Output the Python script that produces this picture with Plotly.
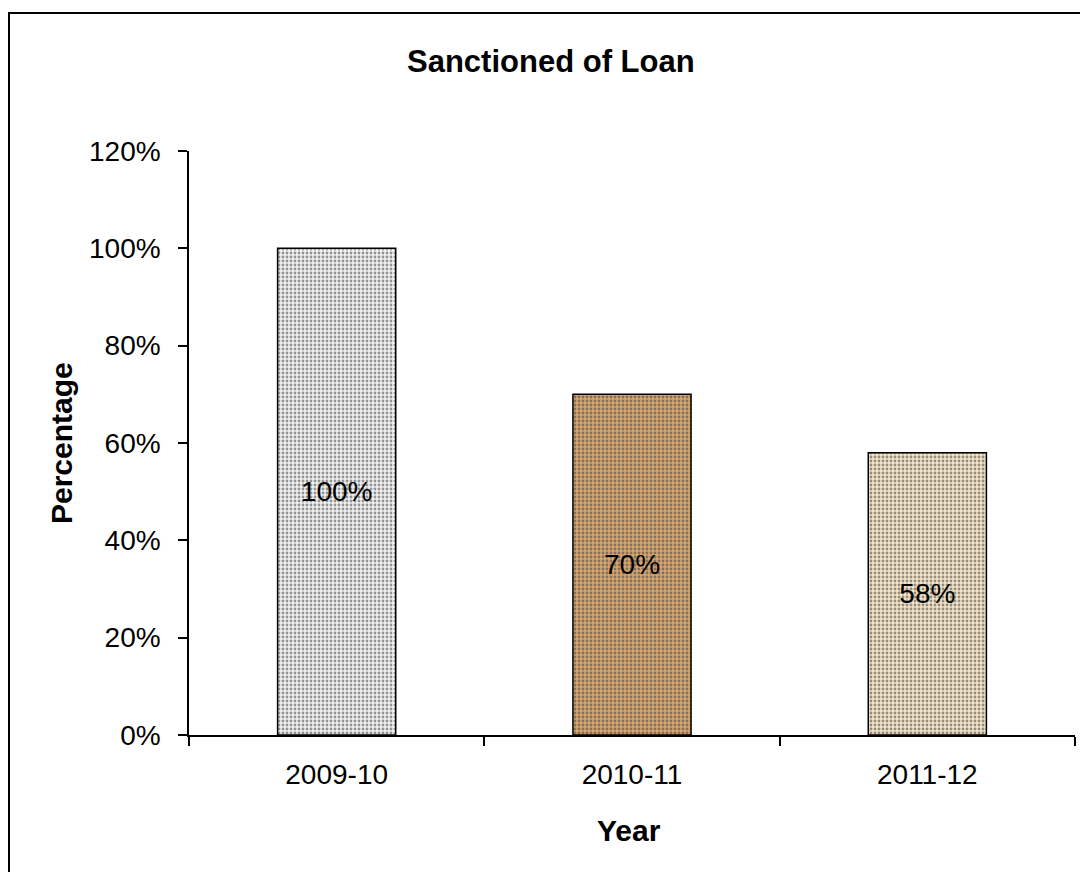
import plotly.graph_objects as go

# Share of loans sanctioned per financial year
years = ["2009-10", "2010-11", "2011-12"]
sanctioned = [1.00, 0.70, 0.58]
bar_labels = ["100%", "70%", "58%"]

# Textured fills (base colour + speckle colour)
base_colors = ["#f1f1f1", "#d8a56e", "#f3e4c6"]
speck_colors = ["#d4d4d4", "#9c5e2c", "#e2cca2"]

FONT = "Liberation Sans, Arial, sans-serif"

# Plot-area geometry in pixels
W, H = 1080, 872
L, R, T, B = 189, 5, 151, 137
PW, PH = W - L - R, H - T - B


def px_x(x):
    return (x - L) / PW


def px_y(y):
    return (H - B - y) / PH


fig = go.Figure(
    go.Bar(
        x=years,
        y=sanctioned,
        width=0.4,
        text=bar_labels,
        textposition="inside",
        insidetextanchor="middle",
        textfont=dict(family=FONT, size=28, color="black"),
        marker=dict(
            color=base_colors,
            line=dict(color="black", width=1.5),
            pattern=dict(
                shape=".",
                fgcolor=speck_colors,
                fgopacity=0.55,
                size=4,
                solidity=0.4,
                fillmode="overlay",
            ),
        ),
        hoverinfo="skip",
    )
)

fig.update_layout(
    width=W,
    height=H,
    margin=dict(l=L, r=R, t=T, b=B),
    paper_bgcolor="white",
    plot_bgcolor="white",
    showlegend=False,
    font=dict(family=FONT, size=28, color="black"),
)

fig.update_xaxes(
    type="category",
    showline=True,
    linecolor="black",
    linewidth=1.5,
    ticks="outside",
    tickson="boundaries",
    ticklen=9,
    tickwidth=1.5,
    tickcolor="black",
    ticklabelstandoff=14,
    tickfont=dict(family=FONT, size=28),
    showgrid=False,
)

fig.update_yaxes(
    range=[0, 1.2],
    dtick=0.2,
    tickformat=".0%",
    showline=True,
    linecolor="black",
    linewidth=1.5,
    ticks="outside",
    ticklen=9,
    tickwidth=1.5,
    tickcolor="black",
    ticklabelstandoff=12,
    tickfont=dict(family=FONT, size=28),
    showgrid=False,
    zeroline=False,
)

# Chart title and axis titles
fig.add_annotation(
    text="<b>Sanctioned of Loan</b>",
    xref="paper", yref="paper",
    x=px_x(551), y=px_y(62),
    xanchor="center", yanchor="middle",
    showarrow=False,
    font=dict(family=FONT, size=31, color="black"),
)
fig.add_annotation(
    text="<b>Year</b>",
    xref="paper", yref="paper",
    x=px_x(629), y=px_y(830),
    xanchor="center", yanchor="middle",
    showarrow=False,
    font=dict(family=FONT, size=30, color="black"),
)
fig.add_annotation(
    text="<b>Percentage</b>",
    xref="paper", yref="paper",
    x=px_x(61), y=px_y(443),
    xanchor="center", yanchor="middle",
    textangle=-90,
    showarrow=False,
    font=dict(family=FONT, size=30, color="black"),
)

# Outer chart frame
fig.add_shape(
    type="rect",
    xref="paper",
    yref="paper",
    x0=px_x(9),
    x1=px_x(1090),
    y0=px_y(880),
    y1=px_y(13),
    line=dict(color="black", width=2),
    fillcolor="rgba(0,0,0,0)",
    layer="below",
)

fig.write_html("out.html")
